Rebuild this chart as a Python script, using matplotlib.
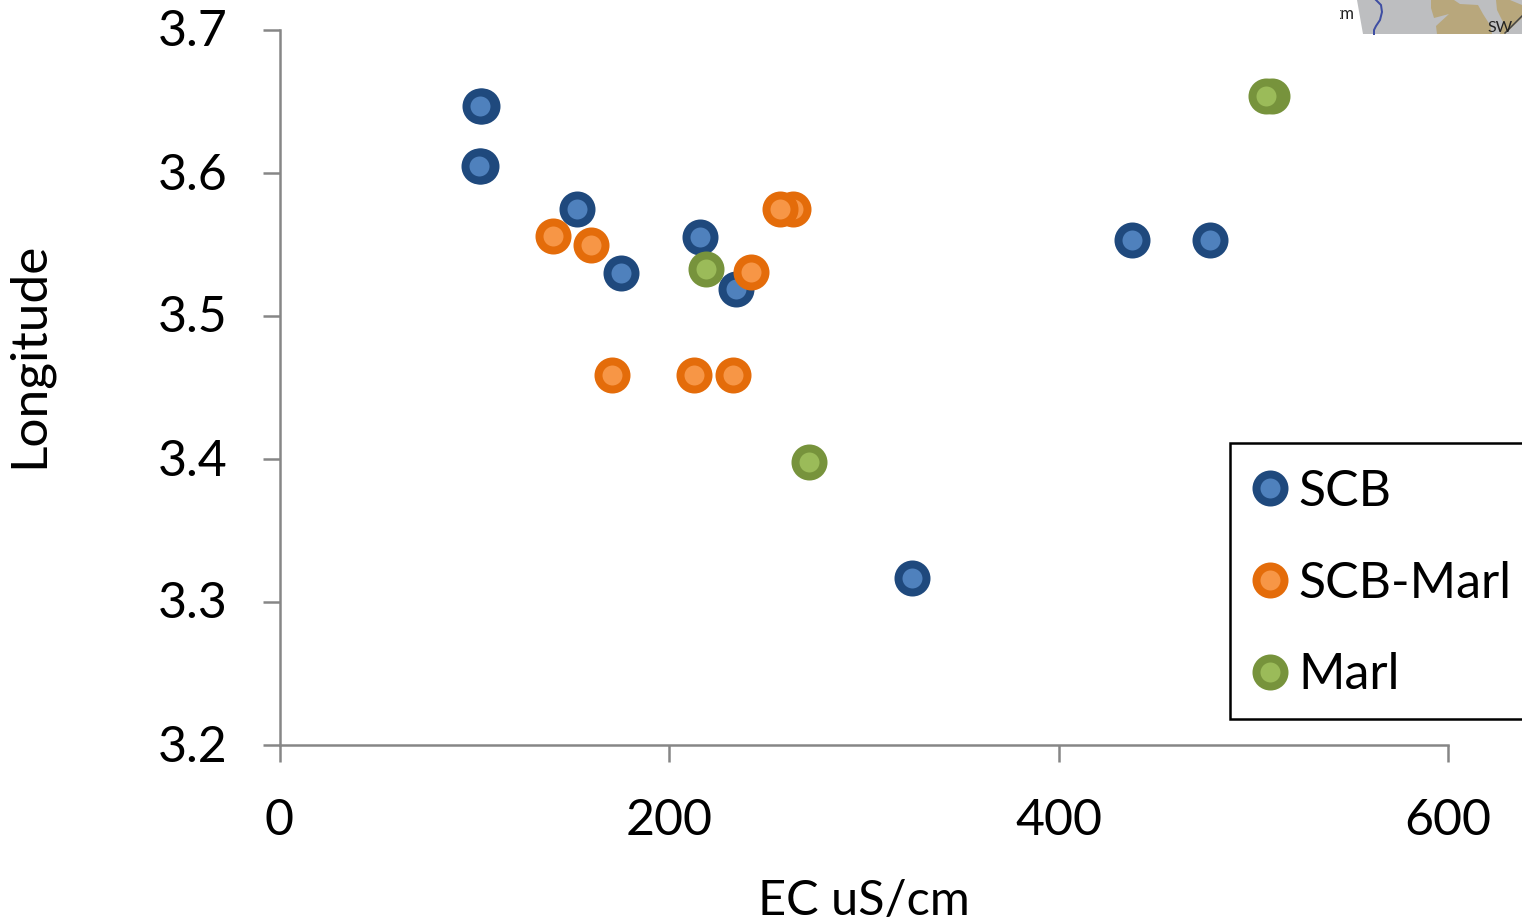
import matplotlib

matplotlib.use("Agg")
from matplotlib import pyplot as plt
from matplotlib.lines import Line2D
from matplotlib.patches import Polygon, Rectangle
from matplotlib.transforms import Bbox, ScaledTranslation

plt.rcParams["font.family"] = ["Lato", "DejaVu Sans"]

WIDTH, HEIGHT = 1522, 923
DPI = 100

scb_x = [103.8, 102.7, 103.3, 102.2, 152.6, 175.2, 215.8, 234.2, 324.7, 437.7, 477.7]
scb_y = [3.647, 3.647, 3.605, 3.605, 3.575, 3.530, 3.555, 3.519, 3.317, 3.553, 3.553]

scb_marl_x = [263.5, 256.8, 140.2, 159.8, 170.5, 212.7, 232.7, 242.0]
scb_marl_y = [3.575, 3.575, 3.556, 3.550, 3.459, 3.459, 3.459, 3.531]

marl_x = [218.8, 271.7, 509.6, 506.5]
marl_y = [3.533, 3.398, 3.654, 3.654]

x_ticks = [0, 200, 400, 600]
y_ticks = [3.2, 3.3, 3.4, 3.5, 3.6, 3.7]

series = [
    ("SCB", scb_x, scb_y, "#1f497d", "#4f81bd"),
    ("SCB-Marl", scb_marl_x, scb_marl_y, "#e46c0a", "#f79646"),
    ("Marl", marl_x, marl_y, "#77933c", "#9bbb59"),
]


def px(value: float) -> float:
    # pixel length to points
    return value * 72 / DPI


fig = plt.figure(figsize=(WIDTH / DPI, HEIGHT / DPI), dpi=DPI)
ax = fig.add_axes(
    [279.5 / WIDTH, 1 - 745 / HEIGHT, (1448 - 279.5) / WIDTH, (745 - 30) / HEIGHT]
)

handles = []
for label, xs, ys, edge, face in series:
    style = dict(
        linestyle="none",
        marker="o",
        markersize=px(28),
        markeredgewidth=px(8),
        markeredgecolor=edge,
        markerfacecolor=face,
    )
    ax.plot(xs, ys, clip_on=False, **style)
    handles.append(Line2D([], [], label=label, **style))

ax.set_xlim(0, 600)
ax.set_ylim(3.2, 3.7)
ax.set_xticks(x_ticks)
ax.set_yticks(y_ticks)
ax.set_yticklabels([f"{tick:.1f}" for tick in y_ticks])
ax.tick_params(
    axis="both",
    labelsize=36,
    length=px(17),
    width=px(2.5),
    color="#868686",
)
ax.tick_params(axis="x", pad=px(36))
ax.tick_params(axis="y", pad=px(35))
for side in ("top", "right"):
    ax.spines[side].set_visible(False)
for side in ("left", "bottom"):
    ax.spines[side].set_color("#868686")
    ax.spines[side].set_linewidth(px(2.5))

# Lift the y tick labels a little above their ticks
lift = ScaledTranslation(0, 2 / DPI, fig.dpi_scale_trans)
for tick_label in ax.get_yticklabels():
    tick_label.set_transform(tick_label.get_transform() + lift)

ax.set_xlabel("EC uS/cm", fontsize=35)
ax.set_ylabel("Longitude", fontsize=37)
ax.xaxis.set_label_coords((864 - 280) / 1168, -(901 - 745) / 715, ax.transAxes)
ax.yaxis.set_label_coords(-(280 - 30) / 1168, (745 - 355) / 715, ax.transAxes)
ax.xaxis.label.set_va("center")
ax.yaxis.label.set_va("center")

# Overlay in picture pixels for the legend box and the map piece
overlay = fig.add_axes([0, 0, 1, 1], zorder=5)
overlay.set_xlim(0, WIDTH)
overlay.set_ylim(HEIGHT, 0)
overlay.axis("off")
overlay.add_patch(
    Rectangle(
        (1230, 443),
        320,
        276,
        facecolor="white",
        edgecolor="black",
        linewidth=px(2.5),
        clip_on=True,
    )
)

legend = overlay.legend(
    handles=handles,
    loc="upper left",
    bbox_to_anchor=(1230 / WIDTH, 1 - 443 / HEIGHT),
    bbox_transform=fig.transFigure,
    borderaxespad=0,
    fontsize=36,
    frameon=False,
    handletextpad=0.28,
    handlelength=0.56,
    labelspacing=0.91,
    borderpad=0.52,
)

# Piece of the neighbouring map, cut off at the top right
overlay.add_patch(
    Polygon(
        [(1357, 0), (1522, 0), (1522, 34), (1363, 34)],
        closed=True,
        facecolor="#bdbec0",
        edgecolor="none",
    )
)
overlay.add_patch(
    Polygon(
        [(1431, 0), (1454, 0), (1460, 4), (1478, 5), (1483, 14), (1490, 25),
         (1492, 34), (1437, 34), (1436, 26), (1449, 14), (1434, 18), (1431, 8)],
        closed=True,
        facecolor="#b8a77c",
        edgecolor="none",
    )
)
overlay.add_patch(
    Polygon(
        [(1496, 0), (1510, 0), (1522, 5), (1522, 18), (1505, 34), (1500, 34),
         (1503, 22), (1497, 10)],
        closed=True,
        facecolor="#b8a77c",
        edgecolor="none",
    )
)
overlay.plot(
    [1376, 1381, 1382, 1380, 1376, 1374, 1374],
    [0, 5, 12, 20, 26, 30, 34],
    color="#3e4ea3",
    linewidth=px(2),
)
overlay.plot([1522, 1505], [16, 33], color="#444444", linewidth=px(1.5))
km_text = overlay.text(1333, 14, "km", fontsize=12, color="#222222", va="center")
km_text.set_clip_box(Bbox([[1340, HEIGHT - 34], [1360, HEIGHT]]))
km_text.set_clip_on(True)
overlay.text(1487, 28, "SW", fontsize=11.5, color="#222222", va="center")

fig.savefig("out.png", dpi=DPI)
